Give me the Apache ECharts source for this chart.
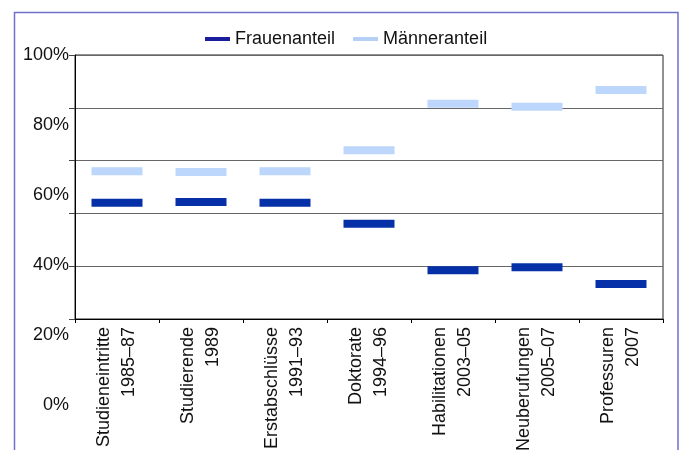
<!DOCTYPE html>
<html>
<head>
<meta charset="utf-8">
<script src="https://cdn.jsdelivr.net/npm/echarts@6/dist/echarts.min.js"></script>
<style>html,body{margin:0;padding:0;background:#fff;}#c{width:683px;height:450px;}</style>
</head>
<body>
<div id="c"></div>
<script>
const categories = ["Studieneintritte\n1985–87", "Studierende\n1989", "Erstabschlüsse\n1991–93", "Doktorate\n1994–96", "Habilitationen\n2003–05", "Neuberufungen\n2005–07", "Professuren\n2007"];
const frauenanteil = [44, 44.3, 44, 36.1, 18.5, 19.6, 13.3];
const maenneranteil = [56, 55.7, 56, 63.9, 81.5, 80.4, 86.7];
const yTickLabels = [0, 20, 40, 60, 80, 100];

const FONT = "Liberation Sans, Arial, sans-serif";
const chart = echarts.init(document.getElementById('c'));
chart.setOption({
  animation: false,
  backgroundColor: '#fff',
  graphic: [{
    type: 'rect', z: -1, silent: true,
    shape: { x: 14.5, y: 12.5, width: 663.5, height: 460 },
    style: { fill: 'none', stroke: '#6f6fcc', lineWidth: 1.5 }
  }],
  legend: {
    left: 200, top: 25,
    itemWidth: 25, itemHeight: 4, itemGap: 18,
    textStyle: { fontFamily: FONT, fontSize: 18, color: '#111', padding: [0, 0, 6, 0] },
    data: [
      { name: 'Frauenanteil', icon: 'rect', itemStyle: { color: '#1a1e9c' } },
      { name: 'Männeranteil', icon: 'rect', itemStyle: { color: '#b5cff7' } }
    ]
  },
  grid: [
    { left: 75, right: 20, top: 55, bottom: 131, show: true, borderColor: '#222', borderWidth: 1, outerBoundsMode: 'none', containLabel: false },
    { left: 75, width: 1, top: 55, height: 350, show: false, outerBoundsMode: 'none', containLabel: false }
  ],
  xAxis: [
    {
      type: 'category', gridIndex: 0, data: categories, boundaryGap: true,
      axisLine: { lineStyle: { color: '#000', width: 1 } },
      axisTick: { show: true, length: 4, lineStyle: { color: '#000' } },
      axisLabel: { rotate: 90, fontFamily: FONT, fontSize: 18, lineHeight: 25, color: '#111', margin: 8, interval: 0 }
    },
    { type: 'value', gridIndex: 1, show: false }
  ],
  yAxis: [
    {
      type: 'value', gridIndex: 0, min: 0, max: 100, interval: 20,
      axisLine: { show: true, lineStyle: { color: '#000' } },
      axisTick: { show: true, length: 6, lineStyle: { color: '#444' } },
      axisLabel: { show: false },
      splitLine: { show: true, lineStyle: { color: '#666', width: 1 } }
    },
    {
      type: 'value', gridIndex: 1, min: 0, max: 100, interval: 20,
      axisLine: { show: false }, axisTick: { show: false }, splitLine: { show: false },
      axisLabel: { fontFamily: FONT, fontSize: 18, color: '#111', margin: 6,
        customValues: yTickLabels, formatter: v => v + '%' }
    }
  ],
  series: [
    {
      name: 'Frauenanteil', type: 'scatter', xAxisIndex: 0, yAxisIndex: 0,
      symbol: 'rect', symbolSize: [51, 8], data: frauenanteil,
      itemStyle: { color: '#0630a8', opacity: 1 }
    },
    {
      name: 'Männeranteil', type: 'scatter', xAxisIndex: 0, yAxisIndex: 0,
      symbol: 'rect', symbolSize: [51, 8], data: maenneranteil,
      itemStyle: { color: '#bdd7fc', opacity: 1 }
    }
  ]
});
</script>
</body>
</html>
